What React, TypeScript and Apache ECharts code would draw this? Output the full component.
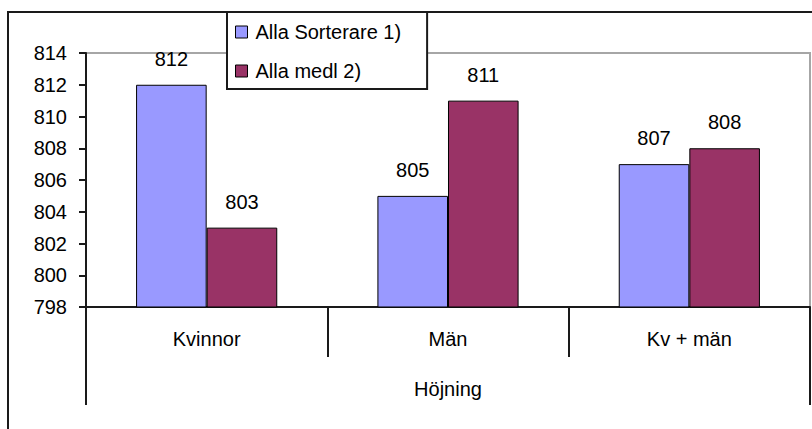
import React, { useEffect, useRef } from "react";
import * as echarts from "echarts";

const categories = ["Kvinnor", "Män", "Kv + män"];
const groupLabel = ["Höjning"];
const seriesNames = ["Alla Sorterare 1)", "Alla medl 2)"];
const sortererValues = [812, 805, 807];
const medlValues = [803, 811, 808];
const yMin = 798;
const yMax = 814;
const yInterval = 2;

export default function App() {
  const ref = useRef<HTMLDivElement>(null);
  useEffect(() => {
    const chart = echarts.init(ref.current!, null, { renderer: "svg" });
    const font = "Arial, 'Liberation Sans', sans-serif";
    const lineColor = "#1a1a1a";
    const fs = 20;
    chart.setOption({
      animation: false,
      backgroundColor: "#ffffff",
      textStyle: { fontFamily: font },
      grid: {
        left: 86,
        top: 53,
        right: 2,
        bottom: 122,
        show: true,
        borderColor: "#a6a6a6",
        borderWidth: 2,
        containLabel: false,
      },
      legend: {
        orient: "vertical",
        left: 227,
        top: 12,
        data: seriesNames,
        icon: "rect",
        itemWidth: 12,
        itemHeight: 12,
        itemGap: 19,
        padding: [10, 26, 8, 8],
        backgroundColor: "#ffffff",
        borderColor: lineColor,
        borderWidth: 2,
        borderRadius: 0,
        textStyle: { fontSize: fs, color: "#000", fontFamily: font, padding: [0, 0, 0, 3] },
        itemStyle: { borderColor: "#000", borderWidth: 1 },
      },
      xAxis: [
        {
          type: "category",
          data: categories,
          position: "bottom",
          axisLine: { show: true, onZero: false, lineStyle: { color: lineColor, width: 2 } },
          axisTick: { show: true, length: 50, alignWithLabel: false, lineStyle: { color: lineColor, width: 2 } },
          axisLabel: { fontSize: fs, color: "#000", margin: 22, interval: 0, fontFamily: font },
        },
        {
          type: "category",
          data: groupLabel,
          position: "bottom",
          gridIndex: 0,
          axisLine: { show: false, onZero: false },
          axisTick: { show: true, length: 98, alignWithLabel: false, lineStyle: { color: lineColor, width: 2 } },
          axisLabel: { fontSize: fs, color: "#000", margin: 72, interval: 0, fontFamily: font },
          splitLine: { show: false },
        },
      ],
      yAxis: {
        type: "value",
        min: yMin,
        max: yMax,
        interval: yInterval,
        axisLine: { show: true, lineStyle: { color: lineColor, width: 2 } },
        axisTick: { show: true, length: 7, lineStyle: { color: lineColor, width: 2 } },
        splitLine: { show: false },
        axisLabel: { fontSize: fs, color: "#000", margin: 19, fontFamily: font },
      },
      graphic: [
        {
          type: "polyline",
          shape: { points: [[8, 429], [8, 12], [812, 12]] },
          style: { stroke: lineColor, lineWidth: 2, fill: null },
          silent: true,
        },
      ],
      series: [
        {
          name: seriesNames[0],
          type: "bar",
          data: sortererValues,
          barGap: "0%",
          barCategoryGap: "41.5%",
          itemStyle: { color: "#9999ff", borderColor: "#000", borderWidth: 1 },
          label: { show: true, position: "top", distance: 16, fontSize: fs, color: "#000", fontFamily: font },
        },
        {
          name: seriesNames[1],
          type: "bar",
          data: medlValues,
          barGap: "0%",
          barCategoryGap: "41.5%",
          itemStyle: { color: "#993366", borderColor: "#000", borderWidth: 1 },
          label: { show: true, position: "top", distance: 16, fontSize: fs, color: "#000", fontFamily: font },
        },
      ],
    });
    return () => chart.dispose();
  }, []);
  return (
    <div
      ref={ref}
      style={{ position: "absolute", left: 0, top: 0, width: 812, height: 429 }}
    />
  );
}
